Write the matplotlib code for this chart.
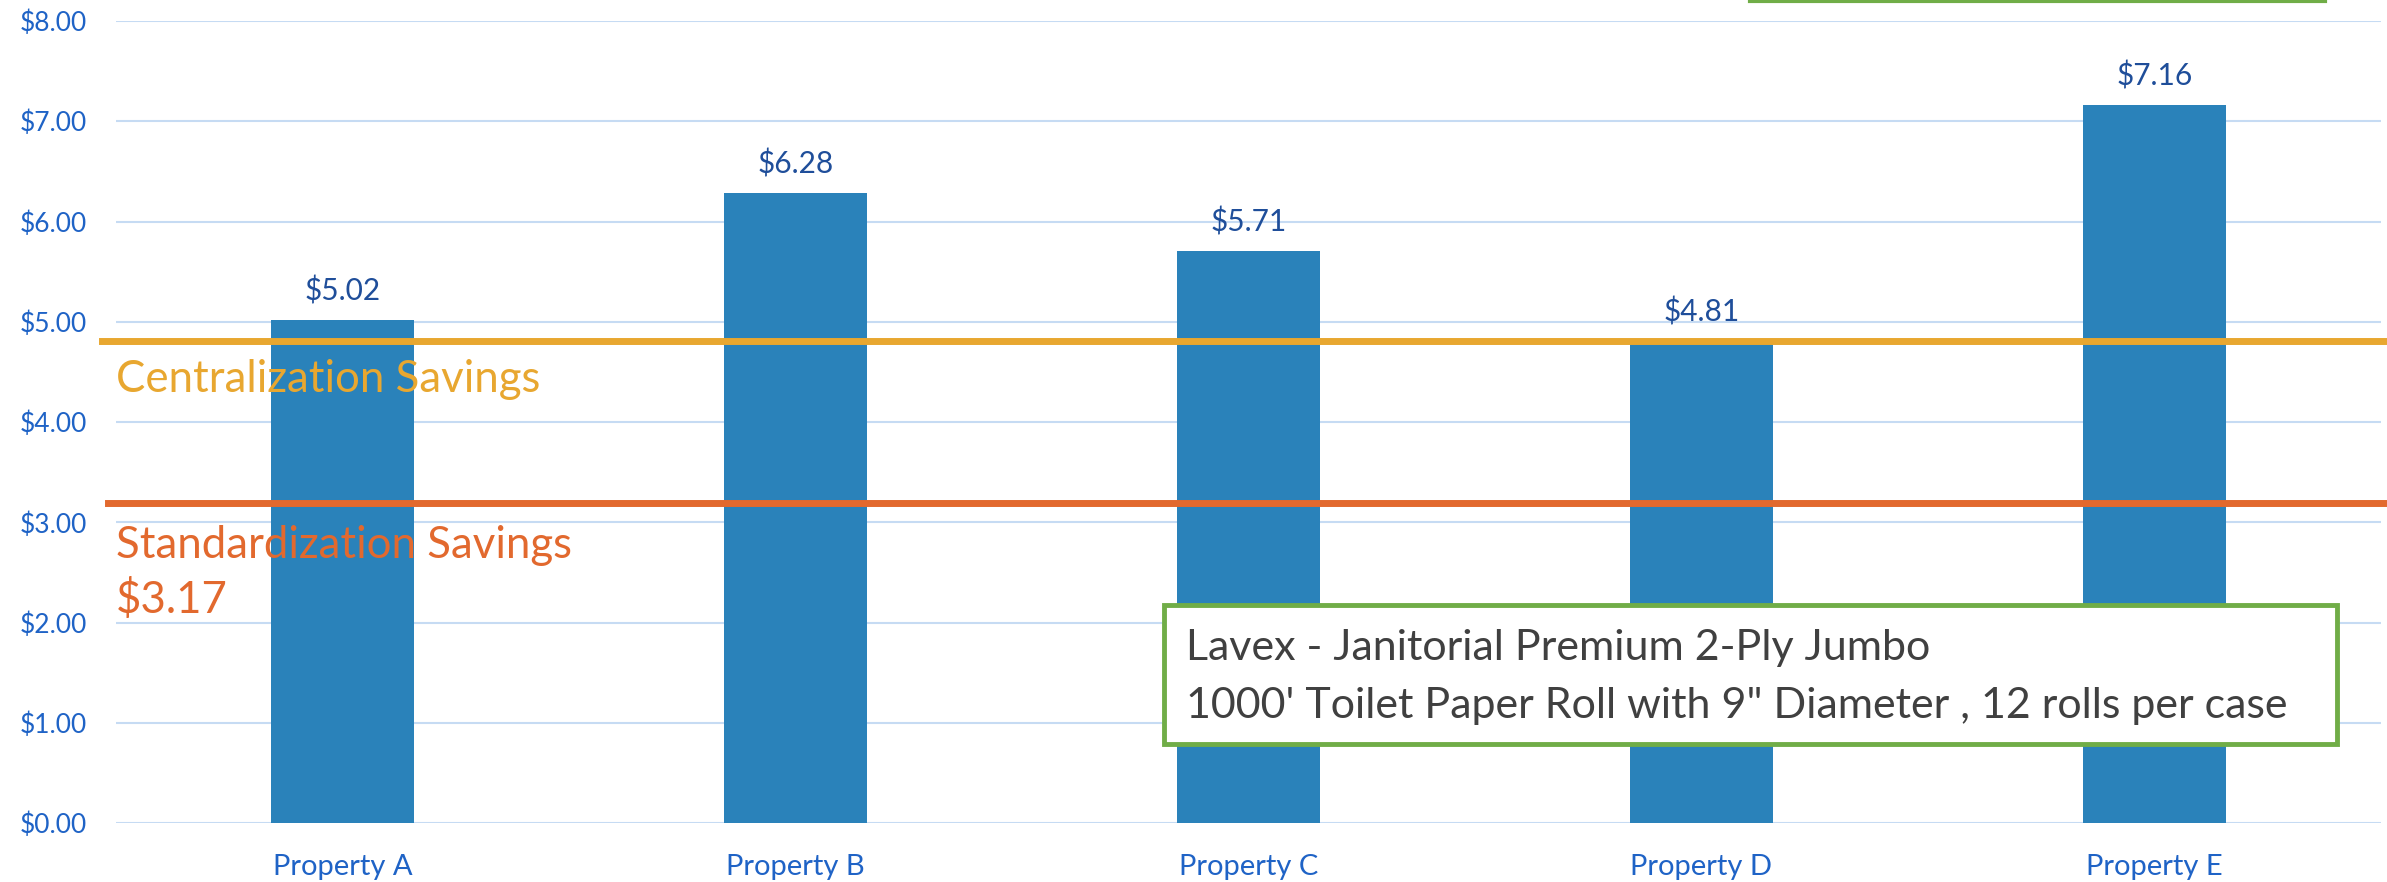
import matplotlib.pyplot as plt
from matplotlib.patches import Rectangle
from matplotlib.lines import Line2D

# Cost per case for each property
properties = ['Property A', 'Property B', 'Property C', 'Property D', 'Property E']
prices = [5.02, 6.28, 5.71, 4.81, 7.16]

# Reference lines
centralization_level = 4.81
standardization_level = 3.19
standardization_savings = '$3.17'

y_ticks = [0, 1, 2, 3, 4, 5, 6, 7, 8]

product_lines = ['Lavex - Janitorial Premium 2-Ply Jumbo',
                 '1000\' Toilet Paper Roll with 9" Diameter , 12 rolls per case']

plt.rcParams['font.family'] = ['Lato', 'DejaVu Sans']

BAR = '#2A82BA'
TICK = '#1F63C6'
VAL = '#1F4E9A'
GOLD = '#E8A730'
ORANGE = '#E2692E'
GREEN = '#70AD47'
GRID = '#C6DBF3'

fig = plt.figure(figsize=(23.87, 8.82), dpi=100)
ax = fig.add_axes([116 / 2387, 59 / 882, 2265 / 2387, 802 / 882])

x = list(range(len(properties)))
bars = ax.bar(x, prices, width=0.315, color=BAR, zorder=2)
for xi, p in zip(x, prices):
    ax.annotate(f'${p:.2f}', (xi, p), xytext=(0, 14), textcoords='offset points',
                ha='center', va='baseline', fontsize=21.5, color=VAL)

ax.set_xlim(-0.5, 4.5)
ax.set_ylim(0, 8)
ax.set_yticks(y_ticks)
ax.set_yticklabels([f'${v:.2f}' for v in y_ticks])
ax.set_xticks(x)
ax.set_xticklabels(properties)
ax.tick_params(axis='y', length=0, pad=21, labelsize=19, labelcolor=TICK)
ax.tick_params(axis='x', length=0, pad=22, labelsize=21, labelcolor=TICK)
ax.grid(axis='y', color=GRID, linewidth=1.5)
ax.set_axisbelow(True)
for s in ax.spines.values():
    s.set_visible(False)

# savings lines
ax.axhline(centralization_level, xmin=-0.006, xmax=1.01, color=GOLD, lw=5, clip_on=False, zorder=3)
ax.axhline(standardization_level, xmin=-0.0035, xmax=1.01, color=ORANGE, lw=5, clip_on=False, zorder=3)

ax.text(-0.5, 4.30, 'Centralization Savings', color=GOLD, fontsize=31.5, va='baseline', zorder=4)
ax.text(-0.5, 2.64, 'Standardization Savings', color=ORANGE, fontsize=31.5, va='baseline', zorder=4)
ax.text(-0.5, 2.09, standardization_savings, color=ORANGE, fontsize=31.5, va='baseline', zorder=4)

# product description box
fig.patches.append(Rectangle((1164 / 2387, (882 - 744) / 882), (2337 - 1164) / 2387, 139 / 882,
                             transform=fig.transFigure, facecolor='white', edgecolor=GREEN,
                             linewidth=3.5, zorder=5))
fig.text(1186 / 2387, (882 - 660) / 882, product_lines[0], fontsize=31, color='#404040',
         va='baseline', zorder=6)
fig.text(1186 / 2387, (882 - 718) / 882, product_lines[1], fontsize=31, color='#404040',
         va='baseline', zorder=6)

# edge of a box cut off at the top
fig.add_artist(Line2D([1750 / 2387, 2325 / 2387], [1 - 1 / 882, 1 - 1 / 882],
                      color=GREEN, lw=3, transform=fig.transFigure))

fig.savefig('out.png', dpi=100)
